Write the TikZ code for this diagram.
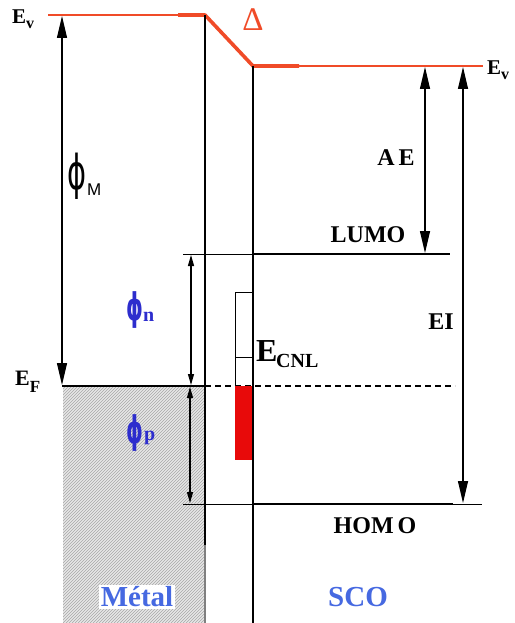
\documentclass[tikz,border=0pt]{standalone}
\usepackage{fontspec}
\setmainfont{Liberation Serif}
\setsansfont{Liberation Sans}
\newfontfamily\dvs{DejaVu Sans}
\usetikzlibrary{arrows.meta}
\definecolor{evred}{RGB}{240,75,40}
\definecolor{boxred}{RGB}{232,10,10}
\definecolor{phiblue}{RGB}{45,45,205}
\definecolor{lblblue}{RGB}{70,105,225}
\newcommand\fs[1]{\fontsize{#1}{#1}\selectfont}
\newcommand\bigphi{\scalebox{0.6}[1]{\fs{48}\dvs ϕ}}
\newcommand\bluephi{\scalebox{0.56}[1]{\fs{38}\dvs\bfseries ϕ}}
\newcommand\lowsub[2]{\raisebox{#1}{\fs{#2}}}
\begin{document}
\begin{tikzpicture}[x=1pt,y=-1pt,
  dbig/.style={line width=1.2pt,{Triangle[length=22pt,width=10pt]}-{Triangle[length=22pt,width=10pt]}},
  dsmall/.style={line width=1.1pt,{Triangle[length=11pt,width=6pt]}-{Triangle[length=11pt,width=6pt]}},
  lvl/.style={font=\fs{24}\bfseries, inner sep=0pt},
  thinred/.style={evred, line width=1.3pt},
  thickred/.style={evred, line width=3.6pt}]
\useasboundingbox (0,0) rectangle (514,623);
% hatched metal
\begin{scope}
\clip (63,386) rectangle (205,623);
\fill[gray!12] (63,386) rectangle (205,623);
\foreach \k in {-180,-177,...,210} \draw[gray!60, line width=1pt] (\k,623) -- ++(240,-240);
\end{scope}
% coordinates
\coordinate (evL) at (48,15);
\coordinate (evLt) at (178,15);
\coordinate (evM) at (205,15);
\coordinate (evS) at (253,66);
\coordinate (evSt) at (299,66);
\coordinate (evR) at (483,66);
% vacuum level
\draw[thinred] (evL) -- (evLt);
\draw[thickred, line join=round] (evLt) -- (evM) -- (evS) -- (evSt);
\draw[thinred] (evSt) -- (evR);
% interface lines
\coordinate (mBot) at (205,545);
\coordinate (mEnd) at (205,623);
\coordinate (sBot) at (253,623);
\draw[line width=1.3pt] (evM) -- (mBot);
\draw[line width=1.3pt, gray] (mBot) -- (mEnd);
\draw[line width=1.3pt] (evS) -- (sBot);
% Fermi level
\coordinate (efL) at (62,386);
\coordinate (efM) at (205,386);
\coordinate (efR) at (455,386);
\draw[line width=1.6pt] (efL) -- (efM);
\draw[line width=1.1pt, dash pattern=on 6pt off 4pt] (efM) -- (efR);
% LUMO / HOMO
\coordinate (luL) at (183,254);
\coordinate (luM) at (253,254);
\coordinate (luR) at (450,254);
\draw[line width=1pt] (luL) -- (luM);
\draw[line width=2.2pt] (luM) -- (luR);
\coordinate (hoL) at (183,504);
\coordinate (hoM) at (253,504);
\coordinate (hoT) at (453,504);
\coordinate (hoR) at (482,504);
\draw[line width=1pt] (hoL) -- (hoR);
\draw[line width=2.2pt] (hoM) -- (hoT);
% CNL box
\fill[boxred] (235,386) rectangle (252,460);
\draw[line width=1pt] (235,386) -- (235,292) -- (253,292);
\draw[line width=1pt] (235,357) -- (253,357);
% arrows
\coordinate (aMt) at (62,16);
\coordinate (aMb) at (62,385);
\draw[dbig] (aMt) -- (aMb);
\coordinate (aAt) at (425,67);
\coordinate (aAb) at (425,253);
\draw[dbig] (aAt) -- (aAb);
\coordinate (aIt) at (463,67);
\coordinate (aIb) at (463,503);
\draw[dbig] (aIt) -- (aIb);
\coordinate (aNt) at (191,255);
\coordinate (aNb) at (191,385);
\draw[dsmall] (aNt) -- (aNb);
\coordinate (aPt) at (190,387);
\coordinate (aPb) at (190,503);
\draw[dsmall] (aPt) -- (aPb);
% labels
\node[font=\fs{21}\bfseries, inner sep=0pt, anchor=base west] (lEvL) at (12,24) {E\raisebox{-5pt}{\fs{16}v}};
\node[font=\fs{21}\bfseries, inner sep=0pt, anchor=base west] (lEvR) at (487,75) {E\raisebox{-5pt}{\fs{16}v}};
\node[font=\fs{33}, text=evred, inner sep=0pt] (lDelta) at (253,20) {Δ};
\node[font=\fs{22}\bfseries, inner sep=0pt, anchor=base west] (lEF) at (15,385) {E\raisebox{-7pt}{\fs{17}F}};
\node[inner sep=0pt] (lphiM) at (77,176) {\bigphi};
\node[font=\fs{17}\sffamily, inner sep=0pt, anchor=west] (lM) at (87,190) {M};
\node[inner sep=0pt, text=phiblue] (lphiN) at (135,310) {\bluephi};
\node[font=\fs{20}\bfseries, text=phiblue, inner sep=0pt, anchor=west] (lN) at (143,317) {n};
\node[inner sep=0pt, text=phiblue] (lphiP) at (135,433) {\bluephi};
\node[font=\fs{20}\bfseries, text=phiblue, inner sep=0pt, anchor=west] (lP) at (144,438) {p};
\node[lvl] (lAE) at (396,158) {A\,E};
\node[lvl] (lLUMO) at (368,235) {LUMO};
\node[lvl] (lEI) at (441,322) {EI};
\node[lvl] (lHOMO) at (375,526) {HOM\,O};
\node[font=\fs{32}\bfseries, inner sep=0pt, anchor=west] (lE) at (256,351) {E};
\node[font=\fs{20}\bfseries, inner sep=0pt, anchor=west] (lCNL) at (276,361) {CNL};
\node[font=\fs{29}\bfseries, text=lblblue, fill=white, inner sep=2pt] (lMetal) at (137,597) {Métal};
\node[font=\fs{29}\bfseries, text=lblblue, inner sep=0pt] (lSCO) at (358,597) {SCO};
\end{tikzpicture}
\end{document}
